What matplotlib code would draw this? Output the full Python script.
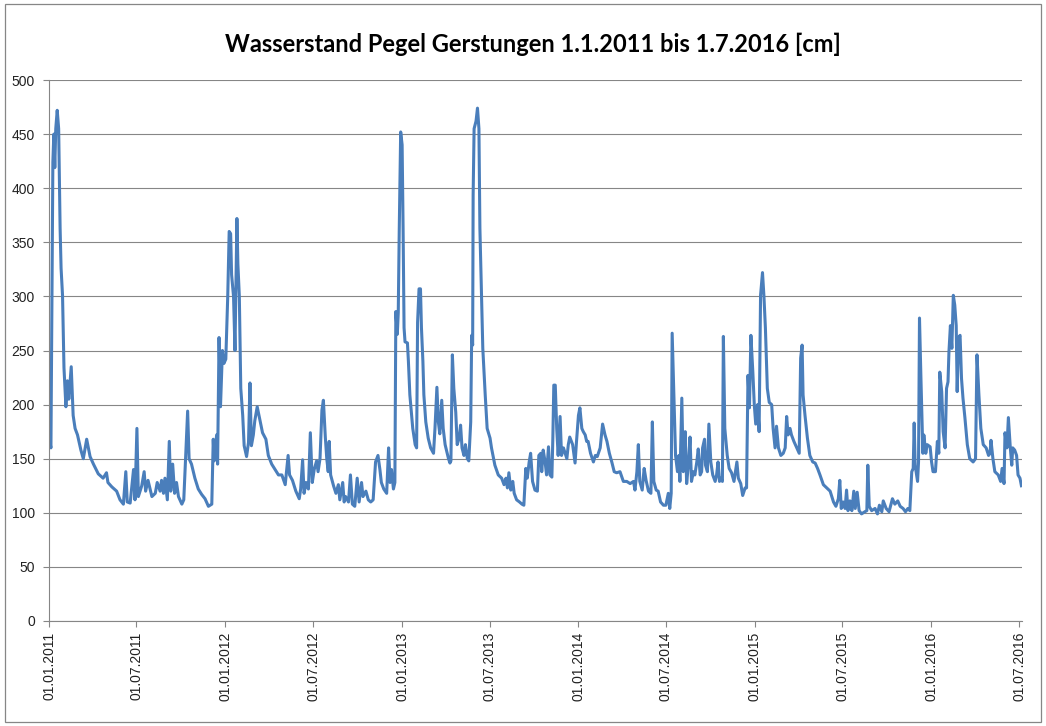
import matplotlib
matplotlib.use("Agg")
import matplotlib.pyplot as plt
import matplotlib.dates as mdates
import pandas as pd
from matplotlib.patches import Rectangle

# ---- data: day offset from 1.1.2011 and water level [cm] ----
start_date = "2011-01-01"
days = [
    2, 4, 8, 10, 12, 14, 17, 20, 23, 25,
    28, 31, 35, 38, 41, 46, 50, 54, 59, 66,
    71, 78, 85, 92, 102, 112, 119, 122, 130, 140,
    147, 154, 159, 162, 168, 175, 178, 182, 185, 192,
    197, 200, 205, 213, 220, 224, 230, 233, 237, 240,
    245, 249, 252, 256, 260, 264, 268, 275, 279, 287,
    290, 295, 302, 309, 316, 323, 330, 337, 340, 342,
    347, 349, 352, 355, 359, 362, 366, 370, 373, 376,
    378, 382, 385, 389, 391, 394, 397, 401, 404, 409,
    413, 416, 419, 423, 426, 431, 437, 442, 449, 454,
    461, 468, 475, 482, 489, 495, 498, 504, 511, 518,
    521, 525, 528, 532, 537, 541, 545, 549, 554, 557,
    561, 565, 568, 572, 575, 578, 580, 583, 589, 594,
    599, 602, 608, 611, 614, 620, 624, 628, 633, 638,
    642, 647, 650, 656, 661, 666, 671, 676, 681, 685,
    688, 693, 699, 703, 706, 709, 713, 716, 718, 721,
    723, 725, 728, 731, 733, 735, 737, 742, 744, 747,
    753, 758, 761, 763, 766, 769, 771, 774, 776, 780,
    785, 790, 796, 799, 803, 806, 809, 813, 816, 820,
    827, 830, 832, 835, 838, 842, 845, 849, 852, 855,
    859, 862, 866, 869, 873, 875, 877, 878, 880, 884,
    887, 890, 892, 894, 898, 903, 907, 913, 916, 923,
    930, 937, 942, 946, 949, 952, 956, 960, 963, 968,
    974, 979, 983, 987, 990, 994, 997, 1001, 1006, 1011,
    1014, 1018, 1020, 1023, 1027, 1030, 1034, 1037, 1041, 1043,
    1045, 1048, 1051, 1054, 1058, 1061, 1065, 1072, 1075, 1078,
    1084, 1089, 1092, 1096, 1099, 1103, 1106, 1110, 1113, 1116,
    1121, 1127, 1131, 1135, 1141, 1146, 1151, 1155, 1160, 1165,
    1170, 1175, 1182, 1189, 1196, 1203, 1210, 1213, 1217, 1220,
    1223, 1228, 1232, 1236, 1241, 1246, 1249, 1252, 1257, 1261,
    1266, 1272, 1277, 1282, 1285, 1288, 1290, 1294, 1297, 1301,
    1304, 1306, 1310, 1313, 1317, 1320, 1324, 1327, 1330, 1334,
    1337, 1341, 1344, 1348, 1351, 1353, 1357, 1359, 1363, 1366,
    1370, 1374, 1379, 1382, 1385, 1388, 1391, 1394, 1396, 1399,
    1404, 1408, 1413, 1418, 1424, 1427, 1432, 1436, 1441, 1444,
    1447, 1450, 1453, 1457, 1460, 1463, 1467, 1470, 1473, 1477,
    1480, 1483, 1487, 1491, 1496, 1499, 1503, 1506, 1510, 1515,
    1520, 1524, 1527, 1530, 1534, 1537, 1542, 1548, 1553, 1556,
    1559, 1561, 1565, 1570, 1575, 1581, 1586, 1591, 1596, 1603,
    1610, 1617, 1624, 1629, 1634, 1637, 1640, 1644, 1648, 1651,
    1654, 1658, 1662, 1666, 1669, 1673, 1677, 1682, 1689, 1693,
    1695, 1698, 1703, 1710, 1715, 1719, 1724, 1727, 1733, 1739,
    1746, 1751, 1757, 1762, 1768, 1773, 1778, 1782, 1786, 1789,
    1791, 1793, 1798, 1800, 1802, 1805, 1809, 1811, 1815, 1818,
    1824, 1827, 1830, 1835, 1839, 1842, 1844, 1848, 1851, 1855,
    1858, 1861, 1863, 1866, 1869, 1872, 1875, 1878, 1880, 1883,
    1886, 1889, 1892, 1896, 1901, 1906, 1913, 1918, 1921, 1925,
    1929, 1934, 1940, 1945, 1948, 1950, 1954, 1958, 1965, 1970,
    1973, 1977, 1979, 1983, 1986, 1990, 1993, 1995, 1999, 2003,
    2006, 2010, 2013,
]
levels = [
    165, 160, 424, 450, 419, 455, 472, 455, 363, 326,
    301, 234, 198, 222, 205, 235, 190, 178, 172, 158,
    150, 168, 152, 145, 136, 132, 137, 128, 124, 120,
    112, 108, 138, 110, 109, 140, 112, 178, 115, 125,
    138, 120, 130, 115, 118, 128, 120, 130, 118, 132,
    112, 166, 120, 145, 118, 128, 115, 108, 112, 194,
    150, 145, 132, 122, 117, 113, 106, 108, 168, 148,
    172, 145, 262, 198, 250, 238, 242, 300, 360, 358,
    320, 300, 250, 372, 330, 300, 215, 190, 162, 152,
    165, 220, 162, 172, 185, 198, 185, 174, 168, 153,
    145, 140, 135, 135, 126, 153, 135, 130, 120, 113,
    122, 149, 118, 128, 122, 174, 128, 140, 148, 138,
    150, 195, 204, 170, 150, 138, 166, 135, 125, 118,
    126, 112, 128, 110, 115, 110, 135, 108, 106, 132,
    110, 128, 115, 120, 112, 110, 112, 147, 153, 140,
    128, 122, 118, 160, 128, 140, 122, 128, 286, 265,
    285, 360, 452, 440, 363, 271, 258, 257, 240, 209,
    178, 163, 160, 276, 307, 307, 271, 240, 209, 184,
    169, 160, 155, 178, 216, 184, 173, 204, 178, 163,
    150, 146, 148, 246, 215, 193, 163, 169, 181, 160,
    153, 163, 150, 148, 184, 264, 255, 394, 455, 462,
    474, 455, 363, 326, 252, 209, 178, 169, 160, 144,
    135, 132, 126, 132, 123, 137, 121, 129, 118, 112,
    110, 108, 107, 141, 132, 147, 155, 129, 121, 120,
    153, 155, 138, 158, 147, 135, 161, 135, 133, 169,
    218, 218, 178, 153, 189, 153, 160, 150, 163, 170,
    163, 146, 166, 190, 197, 178, 175, 172, 166, 166,
    155, 147, 153, 152, 160, 182, 172, 166, 155, 147,
    138, 137, 138, 129, 129, 127, 129, 121, 138, 163,
    129, 121, 141, 130, 120, 118, 184, 129, 121, 120,
    110, 107, 107, 118, 104, 118, 266, 200, 153, 138,
    153, 129, 206, 138, 175, 127, 147, 170, 129, 138,
    135, 147, 159, 135, 138, 160, 168, 144, 138, 182,
    147, 135, 129, 135, 147, 129, 132, 129, 263, 178,
    153, 141, 137, 129, 147, 132, 127, 116, 123, 123,
    227, 197, 264, 230, 200, 182, 200, 175, 301, 322,
    300, 271, 215, 202, 200, 178, 160, 180, 160, 153,
    155, 160, 189, 172, 178, 172, 166, 160, 155, 243,
    255, 209, 190, 169, 153, 147, 146, 141, 135, 126,
    123, 120, 110, 106, 113, 130, 104, 110, 104, 121,
    102, 111, 102, 120, 104, 119, 102, 99, 101, 102,
    144, 106, 102, 104, 99, 107, 101, 111, 104, 101,
    113, 108, 111, 106, 104, 101, 104, 102, 138, 141,
    183, 144, 129, 147, 280, 224, 155, 172, 155, 163,
    161, 147, 138, 138, 166, 155, 230, 212, 175, 160,
    215, 221, 249, 273, 252, 301, 292, 273, 212, 262,
    264, 224, 206, 188, 163, 150, 147, 150, 246, 209,
    178, 163, 160, 153, 155, 167, 150, 138, 135, 129,
    141, 127, 174, 160, 188, 160, 144, 160, 158, 153,
    135, 132, 125,
]
title_text = "Wasserstand Pegel Gerstungen 1.1.2011 bis 1.7.2016 [cm]"
y_ticks = [0, 50, 100, 150, 200, 250, 300, 350, 400, 450, 500]
x_tick_dates = pd.date_range("2011-01-01", "2016-07-01", freq="6MS")

t0 = pd.Timestamp(start_date)
dates = t0 + pd.to_timedelta(days, unit="D")

W, H = 1046, 726
fig = plt.figure(figsize=(W / 100, H / 100), dpi=100)
fig.patch.set_facecolor("white")
# outer chart border
fig.patches.append(Rectangle((5 / W, 4 / H), 1036 / W, 718 / H, transform=fig.transFigure,
                             fill=False, edgecolor="#868686", linewidth=0.9))

ax = fig.add_axes([49 / W, 105 / H, 973 / W, 541 / H])
ax.plot(dates, levels, color="#4A7EBB", linewidth=2.2, solid_joinstyle="round")

ax.set_ylim(0, 500)
ax.set_yticks(y_ticks)
ax.set_xlim(t0, t0 + pd.Timedelta(days=2014.2))
ax.set_xticks(x_tick_dates)
ax.xaxis.set_major_formatter(mdates.DateFormatter("%d.%m.%Y"))

ax.grid(axis="y", color="#868686", linewidth=0.8)
ax.set_axisbelow(True)
for s in ["top", "right"]:
    ax.spines[s].set_visible(False)
for s in ["left", "bottom"]:
    ax.spines[s].set_color("#868686")
    ax.spines[s].set_linewidth(0.8)

ax.tick_params(axis="both", colors="#868686", length=4, width=0.8,
               labelcolor="#222222", labelsize=10)
ax.tick_params(axis="y", pad=6)
for lab in ax.get_yticklabels():
    lab.set_fontfamily("Liberation Sans")
for lab in ax.get_xticklabels():
    lab.set_fontfamily("Liberation Sans")
    lab.set_rotation(90)

fig.text(533 / W, 1 - 44 / H, title_text, ha="center", va="center",
         fontsize=17, fontweight="bold", family="Lato", color="black")

fig.savefig("out.png", dpi=100)
